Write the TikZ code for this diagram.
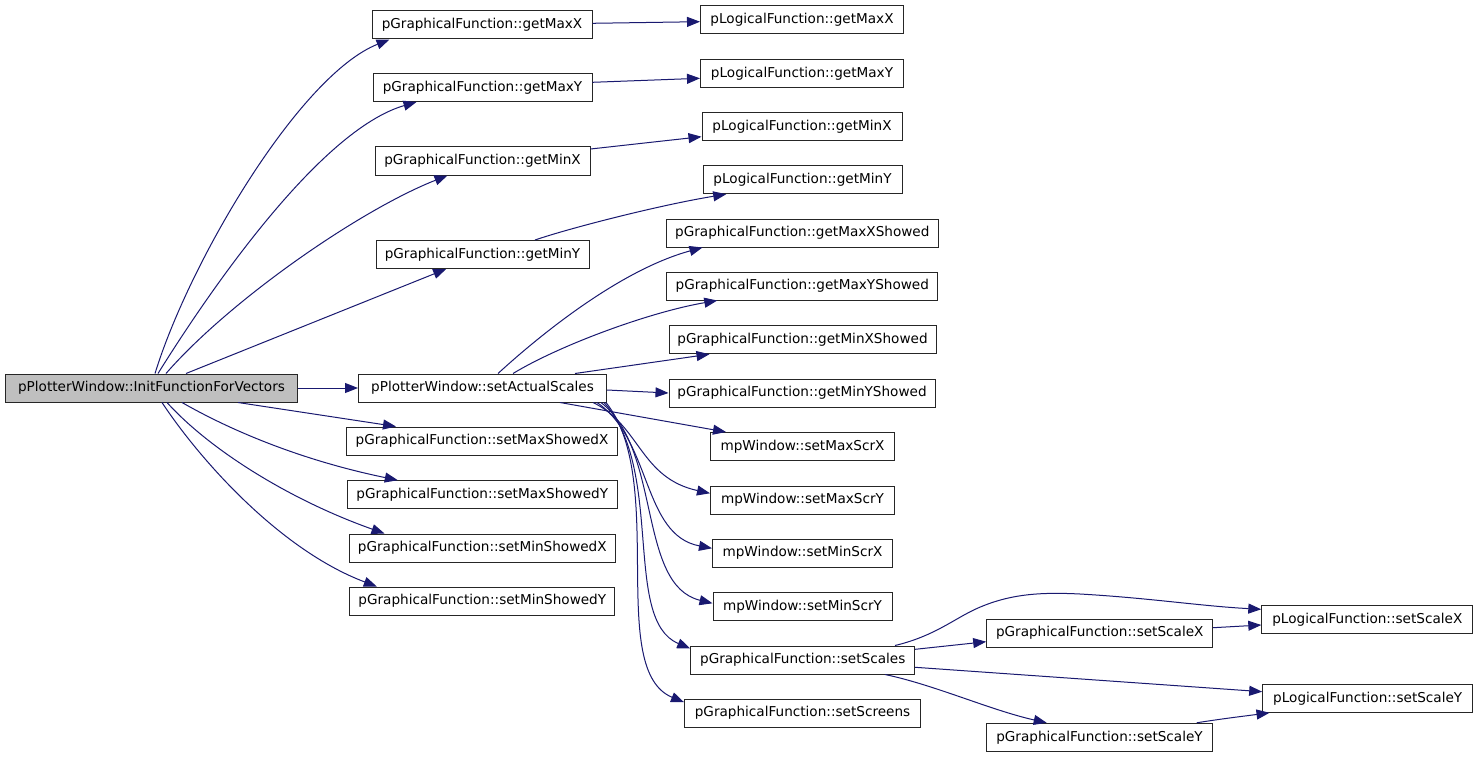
\documentclass[tikz,border=0pt]{standalone}
\usepackage{fontspec}
\setmainfont{DejaVu Sans}
\usetikzlibrary{arrows.meta}
\definecolor{edgeblue}{HTML}{191970}
\definecolor{nodegray}{HTML}{BFBFBF}
\begin{document}
\begin{tikzpicture}[x=1pt,y=-1pt,
  box/.style={draw=black!85, line width=1pt, minimum height=28pt, inner sep=0pt,
    font=\fontsize{13.6}{16}\selectfont, text=black},
  e/.style={draw=edgeblue, line width=1pt, -{Triangle[length=13pt,width=10pt]}}]
\useasboundingbox (0,0) rectangle (1480,757);
\fill[white] (0,0) rectangle (1480,757);
% nodes
\node[box, fill=nodegray, minimum width=292pt] (init) at (151.5,388) {pPlotterWindow::InitFunctionForVectors};
\node[box, minimum width=220pt] (gMaxX) at (482,25) {pGraphicalFunction::getMaxX};
\node[box, minimum width=219pt] (gMaxY) at (482.5,87.5) {pGraphicalFunction::getMaxY};
\node[box, minimum width=215pt] (gMinX) at (482.5,161) {pGraphicalFunction::getMinX};
\node[box, minimum width=213pt] (gMinY) at (482.5,254.5) {pGraphicalFunction::getMinY};
\node[box, minimum width=248pt] (setAS) at (482.5,388) {pPlotterWindow::setActualScales};
\node[box, minimum width=271pt] (sMaxSX) at (482,441) {pGraphicalFunction::setMaxShowedX};
\node[box, minimum width=270pt] (sMaxSY) at (482.3,494.7) {pGraphicalFunction::setMaxShowedY};
\node[box, minimum width=266pt] (sMinSX) at (482.3,548) {pGraphicalFunction::setMinShowedX};
\node[box, minimum width=265pt] (sMinSY) at (482.3,601) {pGraphicalFunction::setMinShowedY};
\node[box, minimum width=203pt] (lMaxX) at (802,19.5) {pLogicalFunction::getMaxX};
\node[box, minimum width=203pt] (lMaxY) at (802,73.3) {pLogicalFunction::getMaxY};
\node[box, minimum width=200pt] (lMinX) at (802,126.7) {pLogicalFunction::getMinX};
\node[box, minimum width=199pt] (lMinY) at (802.5,179.7) {pLogicalFunction::getMinY};
\node[box, minimum width=272pt] (gMaxXS) at (802.3,233) {pGraphicalFunction::getMaxXShowed};
\node[box, minimum width=271pt] (gMaxYS) at (802.3,286) {pGraphicalFunction::getMaxYShowed};
\node[box, minimum width=267pt] (gMinXS) at (802.5,339.7) {pGraphicalFunction::getMinXShowed};
\node[box, minimum width=266pt] (gMinYS) at (802,393) {pGraphicalFunction::getMinYShowed};
\node[box, minimum width=184pt] (mMaxX) at (802.5,446.5) {mpWindow::setMaxScrX};
\node[box, minimum width=184pt] (mMaxY) at (802.5,500) {mpWindow::setMaxScrY};
\node[box, minimum width=180pt] (mMinX) at (802.5,553) {mpWindow::setMinScrX};
\node[box, minimum width=179pt] (mMinY) at (802.5,606.5) {mpWindow::setMinScrY};
\node[box, minimum width=224pt] (setScales) at (802.7,660) {pGraphicalFunction::setScales};
\node[box, minimum width=236pt] (setScreens) at (802.5,713) {pGraphicalFunction::setScreens};
\node[box, minimum width=226pt] (gScaleX) at (1099.7,633) {pGraphicalFunction::setScaleX};
\node[box, minimum width=226pt] (gScaleY) at (1099.5,737.3) {pGraphicalFunction::setScaleY};
\node[box, minimum width=211pt] (lScaleX) at (1367.3,619.7) {pLogicalFunction::setScaleX};
\node[box, minimum width=210pt] (lScaleY) at (1367.7,698.3) {pLogicalFunction::setScaleY};
% edges from init
\draw[e] ([xshift=3.5pt]init.north) .. controls (190,260) and (300,75) .. ([xshift=18pt]gMaxX.south west);
\draw[e] ([xshift=6.5pt]init.north) .. controls (210,290) and (320,130) .. ([xshift=44pt]gMaxY.south west);
\draw[e] ([xshift=14.5pt]init.north) .. controls (230,300) and (360,210) .. ([xshift=73pt]gMinX.south west);
\draw[e] ([xshift=34.5pt]init.north) -- ([xshift=70.7pt]gMinY.south west);
\draw[e] (init.east) -- (setAS.west);
\draw[e] ([xshift=86.5pt]init.south) -- ([xshift=50pt]sMaxSX.north west);
\draw[e] ([xshift=30.5pt]init.south) .. controls (230,430) and (300,460) .. ([xshift=51pt]sMaxSY.north west);
\draw[e] ([xshift=15.5pt]init.south) .. controls (210,450) and (290,500) .. ([xshift=35.7pt]sMinSX.north west);
\draw[e] ([xshift=10.5pt]init.south) .. controls (200,460) and (280,550) .. ([xshift=27.5pt]sMinSY.north west);
% getters to logical
\draw[e] ([yshift=1.7pt]gMaxX.east) -- ([yshift=-2.2pt]lMaxX.west);
\draw[e] ([yshift=5.2pt]gMaxY.east) -- ([yshift=-5pt]lMaxY.west);
\draw[e] ([yshift=12pt]gMinX.east) -- ([yshift=-10pt]lMinX.west);
\draw[e] ([xshift=52.5pt]gMinY.north) .. controls (570,228) and (660,205) .. ([xshift=23.7pt]lMinY.south west);
% setActualScales
\draw[e] ([xshift=15.5pt]setAS.north) .. controls (540,335) and (620,270) .. ([xshift=36.7pt]gMaxXS.south west);
\draw[e] ([xshift=30.5pt]setAS.north) .. controls (560,345) and (650,312) .. ([xshift=51pt]gMaxYS.south west);
\draw[e] ([xshift=92.5pt]setAS.north) -- ([xshift=41pt]gMinXS.south west);
\draw[e] ([yshift=-2pt]setAS.east) -- (gMinYS.west);
\draw[e] ([xshift=77.5pt]setAS.south) -- ([xshift=16pt]mMaxX.north west);
\draw[e] ([xshift=-14pt]setAS.south east) .. controls (640,425) and (640,478) .. ([yshift=6.7pt]mMaxY.west);
\draw[e] ([xshift=-10pt]setAS.south east) .. controls (652,440) and (642,535) .. ([yshift=4.7pt]mMinX.west);
\draw[e] ([xshift=-6pt]setAS.south east) .. controls (662,450) and (637,585) .. ([yshift=3.2pt]mMinY.west);
\draw[e] ([xshift=-3pt]setAS.south east) .. controls (665,470) and (622,620) .. ([yshift=-3pt]setScales.north west);
\draw[e] ([xshift=-1pt]setAS.south east) .. controls (668,480) and (606,670) .. ([yshift=-3.7pt]setScreens.north west);
% setScales
\draw[e] ([yshift=10.7pt]setScales.east) -- ([yshift=-8.7pt]gScaleX.west);
\draw[e] ([yshift=-7.3pt]setScales.east) -- ([yshift=6.6pt]lScaleY.west);
\draw[e] ([xshift=82.3pt]setScales.south) .. controls (935,685) and (990,710) .. ([xshift=-52.8pt]gScaleY.north);
\draw[e] ([xshift=92.3pt]setScales.north) .. controls (935,636) and (955,618) .. (978,608)
   .. controls (1010,594) and (1040,592) .. (1080,594)
   .. controls (1150,598) and (1200,606) .. ([yshift=10.4pt]lScaleX.west);
\draw[e] ([yshift=5.3pt]gScaleX.east) -- ([yshift=-5.3pt]lScaleX.west);
\draw[e] ([xshift=97.2pt]gScaleY.north) .. controls (1220,719) and (1245,716) .. ([xshift=7.3pt]lScaleY.south west);
\end{tikzpicture}
\end{document}
